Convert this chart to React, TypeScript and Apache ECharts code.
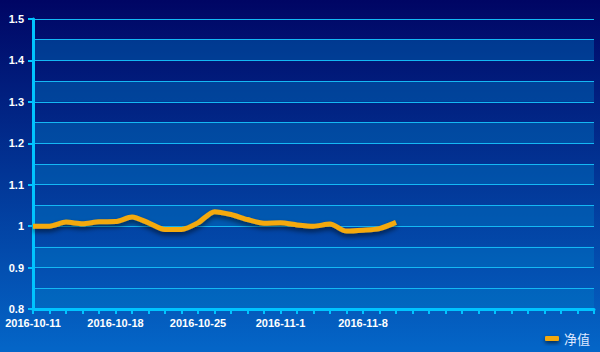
import React, { useEffect, useRef } from "react";
import * as echarts from "echarts";

const dates: string[] = [
  "2016-10-11", "2016-10-12", "2016-10-13", "2016-10-14", "2016-10-17",
  "2016-10-18", "2016-10-19", "2016-10-20", "2016-10-21", "2016-10-24",
  "2016-10-25", "2016-10-26", "2016-10-27", "2016-10-28", "2016-10-31",
  "2016-11-1", "2016-11-2", "2016-11-3", "2016-11-4", "2016-11-7",
  "2016-11-8", "2016-11-9", "2016-11-10",
  "", "", "", "", "", "", "", "", "", "", "", "",
];

const netValues: number[] = [
  1.0, 1.0, 1.0097, 1.0058, 1.0106, 1.011, 1.022, 1.008, 0.992, 0.992,
  1.008, 1.035, 1.028, 1.016, 1.007, 1.008, 1.003, 1.0, 1.005, 0.988,
  0.99, 0.994, 1.009,
];

const seriesName = "净值";
const yMin = 0.8;
const yMax = 1.5;

export default function App() {
  const ref = useRef<HTMLDivElement>(null);
  useEffect(() => {
    if (!ref.current) return;
    const chart = echarts.init(ref.current, null, { renderer: "svg" });
    const cyan = "#00c4ff";
    chart.setOption({
      animation: false,
      backgroundColor: new echarts.graphic.LinearGradient(0, 0, 0, 1, [
        { offset: 0, color: "#000564" },
        { offset: 1, color: "#0466c8" },
      ]),
      grid: { left: 33, right: 6, top: 19, bottom: 43 },
      legend: {
        data: [seriesName],
        right: 5,
        bottom: 2,
        icon: "roundRect",
        itemWidth: 14,
        itemHeight: 5,
        itemGap: 9,
        textStyle: { color: "#dfe8ff", fontSize: 13, fontFamily: "Noto Sans CJK SC" },
        itemStyle: {
          shadowColor: "rgba(0,0,0,0.6)",
          shadowBlur: 4,
          shadowOffsetY: 2,
        },
      },
      xAxis: {
        type: "category",
        boundaryGap: false,
        data: dates,
        axisLine: { lineStyle: { color: cyan, width: 3 } },
        axisTick: { show: true, interval: 0, length: 5, lineStyle: { color: cyan, width: 2 } },
        axisLabel: {
          interval: 4,
          color: "#ffffff",
          fontWeight: "bold",
          fontSize: 11,
          fontFamily: "Liberation Sans, Arial, sans-serif",
          margin: 8,
        },
        splitLine: { show: false },
      },
      yAxis: [
        {
          type: "value",
          min: yMin,
          max: yMax,
          interval: 0.1,
          axisLine: { show: true, lineStyle: { color: cyan, width: 3 } },
          axisTick: { show: true, length: 5, lineStyle: { color: cyan, width: 2 } },
          axisLabel: {
            color: "#ffffff",
            fontWeight: "bold",
            fontSize: 11,
            fontFamily: "Liberation Sans, Arial, sans-serif",
            margin: 9,
          },
          splitLine: { show: false },
        },
        {
          type: "value",
          min: yMin,
          max: yMax,
          interval: 0.05,
          position: "left",
          axisLine: { show: false },
          axisTick: { show: false },
          axisLabel: { show: false },
          splitLine: { show: true, lineStyle: { color: "#14b8f4", width: 1.2 } },
          splitArea: {
            show: true,
            areaStyle: { color: ["rgba(0,125,200,0.38)", "rgba(0,0,0,0)"] },
          },
        },
      ],
      series: [
        {
          name: seriesName,
          type: "line",
          yAxisIndex: 0,
          data: netValues,
          smooth: 0.25,
          symbol: "none",
          showSymbol: false,
          itemStyle: { color: "#f4a90c" },
          lineStyle: {
            color: "#f4a90c",
            width: 5,
            shadowColor: "rgba(0,0,0,0.55)",
            shadowBlur: 5,
            shadowOffsetY: 3,
          },
          z: 5,
        },
      ],
    });
    return () => chart.dispose();
  }, []);
  return (
    <div
      ref={ref}
      style={{ position: "fixed", left: 0, top: 0, width: 600, height: 352 }}
    />
  );
}
